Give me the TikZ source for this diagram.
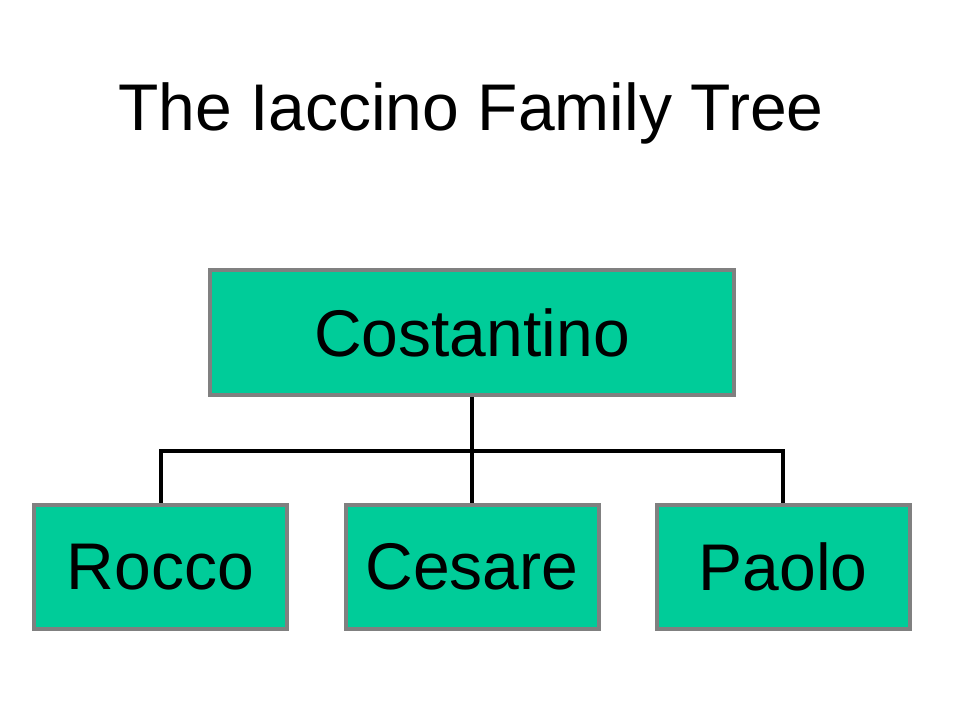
\documentclass[tikz,border=0pt]{standalone}
\usepackage{fontspec}
\setmainfont{Liberation Sans}
\usepackage{tikz}
\definecolor{boxgreen}{HTML}{00CC99}
\definecolor{boxgrey}{HTML}{808080}
\tikzset{
BOX/.style ={draw=boxgrey,fill=boxgreen,line width=4pt,inner sep=0pt,
 minimum width=#1,minimum height=124pt,font=\fontsize{66}{70}\selectfont},
BOX/.default = 253pt,
LINK/.style ={draw=black,line width=4pt,line cap=butt,line join=miter},
}
\begin{document}
\begin{tikzpicture}
[x=1pt, y=-1pt]
	\useasboundingbox (0,0) rectangle (959,719);
	\node[anchor=base,font=\fontsize{66}{70}\selectfont] (title) at (471,131) {The Iaccino Family Tree};
	\node[BOX=524pt, minimum height=125pt] (costantino) at (472,332.5) {Costantino};
	\node[BOX] (rocco) at (160.5,567) {Rocco};
	\node[BOX] (cesare) at (472,567) {Cesare};
	\node[BOX] (paolo) at (783,567) {Paolo};
	\coordinate (fork) at (472,451);
	\path[LINK] (costantino.south) -- (fork);
	\foreach \c in {rocco,cesare,paolo} {
	\path[LINK] (fork) -| (\c.north);}
\end{tikzpicture}
\end{document}
